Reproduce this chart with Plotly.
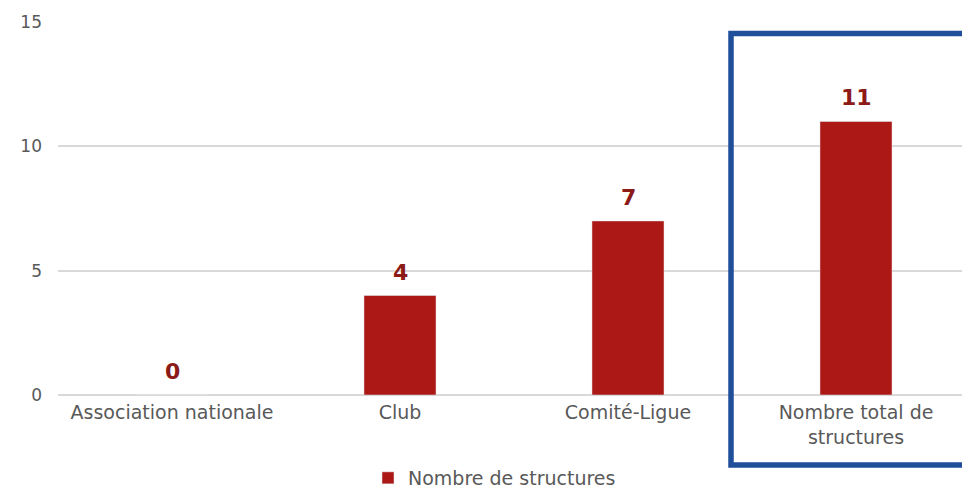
import plotly.graph_objects as go

categories = ["Association nationale", "Club", "Comité-Ligue", "Nombre total de<br>structures"]
values = [0, 4, 7, 11]
series_name = "Nombre de structures"
y_ticks = [0, 5, 10, 15]

W, H = 962, 489
ml, mr, mt, mb = 58, 0, 22, 94
pw = W - ml - mr
ph = H - mt - mb
cat_px = 228.0
FONT = "DejaVu Sans"

def px_x(p):
    return (p - ml) / pw

def px_y(p):
    return (H - mb - p) / ph

fig = go.Figure()
fig.add_trace(go.Bar(
    x=categories, y=values, name=series_name,
    marker=dict(color="#ab1815"),
    width=0.316,
    showlegend=True,
))

for c, v in zip(categories, values):
    fig.add_annotation(x=c, y=v, text=str(v), showarrow=False, yanchor="bottom",
                       yshift=9, font=dict(family=FONT, size=22, color="#8c1a17", weight="bold"))

fig.add_shape(type="rect", xref="paper", yref="paper",
              x0=px_x(731), x1=px_x(975), y0=px_y(465), y1=px_y(33.5),
              line=dict(color="#1f4e9a", width=5.5), fillcolor="rgba(0,0,0,0)", layer="above")

fig.update_layout(
    width=W, height=H,
    margin=dict(l=ml, r=mr, t=mt, b=mb, autoexpand=False),
    plot_bgcolor="white", paper_bgcolor="white",
    font=dict(family=FONT, color="#595959", size=19),
    bargap=0.684,
    xaxis=dict(range=[-0.5, -0.5 + pw / cat_px], showgrid=False, showline=False,
               ticks="", ticklabelstandoff=4,
               tickfont=dict(family=FONT, size=19, color="#595959")),
    yaxis=dict(range=[0, 15], tickvals=y_ticks, showgrid=True, gridcolor="#d9d9d9",
               gridwidth=1.5, zeroline=True, zerolinecolor="#d9d9d9", zerolinewidth=1.5,
               showline=False, ticks="", ticklabelstandoff=15,
               tickfont=dict(family=FONT, size=17, color="#595959")),
    legend=dict(orientation="h", x=px_x(368), xanchor="left", y=px_y(478), yanchor="middle",
                font=dict(family=FONT, size=19, color="#595959"), itemwidth=30, tracegroupgap=0),
)

fig.write_html("out.html", config={"displayModeBar": False},
               post_script="document.body.style.margin='0';document.body.style.overflow='hidden';")
